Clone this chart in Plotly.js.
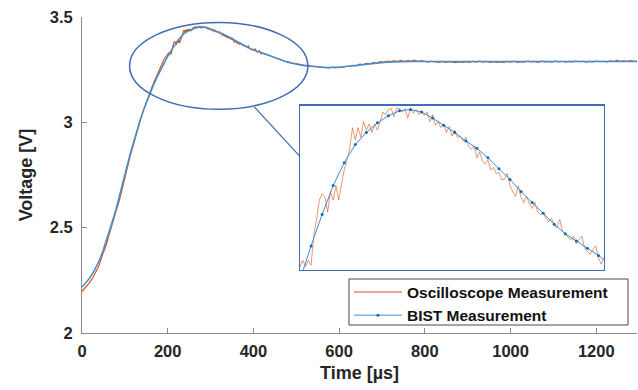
<!DOCTYPE html>
<html>
<head>
<meta charset="utf-8">
<script src="https://cdn.plot.ly/plotly-3.0.1.min.js"></script>
<style>html,body{margin:0;padding:0;background:#fff;}#chart{width:638px;height:390px;}</style>
</head>
<body>
<div id="chart"></div>
<script>
// ---- Data ----
const seriesNames = ["Oscilloscope Measurement", "BIST Measurement"];

// Oscilloscope: coarse before/after the peak, finer around the peak
const oscTime = [
  0,8,16,24,32,40,48,56,64,72,80,88,96,104,112,120,128,136,144,152,160,168,176,184,192,
  200,202,204,206,208,210,212,214,216,218,220,222,224,226,228,230,232,234,236,238,240,
  242,244,246,248,250,252,254,256,258,260,262,264,266,268,270,272,274,276,278,280,
  282,284,286,288,290,292,294,296,298,300,302,304,306,308,310,312,314,316,318,320,
  322,324,326,328,330,332,334,336,338,340,342,344,346,348,350,352,354,356,358,360,
  362,364,366,368,370,372,374,376,378,380,382,384,386,388,390,392,394,396,398,400,
  402,404,406,408,410,412,414,416,418,420,
  424,432,440,448,456,464,472,480,488,496,504,512,520,528,536,544,552,560,568,576,
  584,592,600,608,616,624,632,640,648,656,664,672,680,688,696,704,712,720,728,736,
  744,752,760,768,776,784,792,800,808,816,824,832,840,848,856,864,872,880,888,896,
  904,912,920,928,936,944,952,960,968,976,984,992,1000,1008,1016,1024,1032,1040,1048,1056,
  1064,1072,1080,1088,1096,1104,1112,1120,1128,1136,1144,1152,1160,1168,1176,1184,1192,1200,1208,1216,
  1224,1232,1240,1248,1256,1264,1272,1280,1288,1296
];
const oscVoltage = [
  2.197,2.214,2.236,2.258,2.292,2.322,2.372,2.414,2.472,2.522,2.582,2.636,2.706,2.770,2.836,2.894,2.954,3.008,3.060,3.108,3.150,3.192,3.226,3.264,3.302,
  3.323,3.328,3.323,3.328,3.324,3.349,3.362,3.378,3.383,3.381,3.368,3.385,3.378,3.390,3.378,3.391,3.403,3.411,3.421,3.438,3.428,
  3.438,3.430,3.443,3.436,3.441,3.434,3.441,3.436,3.443,3.451,3.449,3.453,3.454,3.447,3.454,3.454,3.451,3.454,3.446,3.454,
  3.450,3.453,3.449,3.452,3.448,3.451,3.443,3.449,3.440,3.443,3.438,3.441,3.434,3.439,3.431,3.436,3.430,3.431,3.427,3.430,
  3.423,3.420,3.423,3.413,3.418,3.410,3.408,3.411,3.403,3.405,3.400,3.401,3.395,3.395,3.400,3.390,3.385,3.381,3.390,3.380,
  3.376,3.381,3.375,3.371,3.376,3.368,3.366,3.368,3.363,3.360,3.363,3.357,3.355,3.362,3.352,3.350,3.347,3.345,3.348,3.342,
  3.345,3.348,3.338,3.335,3.333,3.337,3.340,3.330,3.325,3.330,
  3.326,3.322,3.315,3.309,3.302,3.298,3.290,3.288,3.282,3.280,3.276,3.274,3.270,3.271,3.266,3.266,3.263,3.262,3.260,3.258,
  3.262,3.259,3.262,3.261,3.266,3.265,3.270,3.268,3.276,3.274,3.280,3.279,3.284,3.281,3.288,3.286,3.291,3.288,3.292,3.289,
  3.294,3.290,3.293,3.291,3.295,3.289,3.293,3.290,3.286,3.290,3.287,3.285,3.289,3.284,3.288,3.285,3.283,3.287,3.284,3.288,
  3.285,3.289,3.286,3.290,3.286,3.289,3.285,3.288,3.284,3.287,3.285,3.289,3.286,3.290,3.285,3.288,3.286,3.291,3.287,3.289,
  3.285,3.290,3.287,3.289,3.286,3.291,3.287,3.290,3.286,3.289,3.287,3.291,3.288,3.290,3.286,3.289,3.287,3.291,3.288,3.290,
  3.287,3.292,3.289,3.294,3.290,3.292,3.289,3.293,3.290,3.291
];

// BIST: one sample every 8 us
const bistTime = [
  0,8,16,24,32,40,48,56,64,72,80,88,96,104,112,120,128,136,144,152,160,168,176,184,192,
  200,208,216,224,232,240,248,256,264,272,280,288,296,304,312,320,328,336,344,352,360,368,376,384,392,
  400,408,416,424,432,440,448,456,464,472,480,488,496,504,512,520,528,536,544,552,560,568,576,584,592,
  600,608,616,624,632,640,648,656,664,672,680,688,696,704,712,720,728,736,744,752,760,768,776,784,792,
  800,808,816,824,832,840,848,856,864,872,880,888,896,904,912,920,928,936,944,952,960,968,976,984,992,
  1000,1008,1016,1024,1032,1040,1048,1056,1064,1072,1080,1088,1096,1104,1112,1120,1128,1136,1144,1152,1160,1168,1176,1184,1192,
  1200,1208,1216,1224,1232,1240,1248,1256,1264,1272,1280,1288,1296
];
const bistVoltage = [
  2.218,2.236,2.256,2.280,2.308,2.342,2.384,2.432,2.485,2.538,2.592,2.652,2.718,2.784,2.847,2.907,2.963,3.014,3.061,3.104,3.144,3.182,3.218,3.252,3.284,
  3.313,3.340,3.366,3.390,3.409,3.424,3.434,3.442,3.448,3.452,3.453,3.451,3.446,3.440,3.434,3.427,3.421,3.413,3.404,3.395,3.385,3.376,3.367,3.358,3.350,
  3.344,3.338,3.332,3.325,3.319,3.312,3.306,3.300,3.294,3.289,3.285,3.281,3.277,3.274,3.271,3.269,3.267,3.265,3.263,3.262,3.261,3.260,3.260,3.260,3.261,
  3.262,3.263,3.265,3.267,3.269,3.271,3.273,3.275,3.277,3.279,3.280,3.281,3.283,3.284,3.285,3.286,3.286,3.287,3.287,3.288,3.288,3.289,3.289,3.289,3.289,
  3.289,3.289,3.288,3.288,3.288,3.287,3.287,3.287,3.287,3.287,3.287,3.287,3.287,3.287,3.287,3.287,3.287,3.287,3.287,3.287,3.287,3.287,3.287,3.287,3.287,
  3.287,3.287,3.287,3.287,3.287,3.287,3.287,3.287,3.287,3.288,3.288,3.288,3.288,3.288,3.288,3.288,3.288,3.288,3.288,3.288,3.288,3.288,3.288,3.288,3.288,
  3.288,3.288,3.288,3.289,3.289,3.289,3.289,3.289,3.289,3.289,3.289,3.289,3.289
];

const xTicks = [0, 200, 400, 600, 800, 1000, 1200];
const yTicks = [2, 2.5, 3, 3.5];
const yTickText = ["2", "2.5", "3", "3.5"];
const xRange = [0, 1295];
const yRange = [2, 3.5];
// zoom window shown in the inset
const insetTimeRange = [200, 420];
const insetVoltRange = [3.32, 3.456];
// ellipse marking the zoomed region (data coords) and connector line
const ellipseTime = [111, 527];
const ellipseVolt = [3.062, 3.474];
const connectorTime = [402, 509];
const connectorVolt = [3.073, 2.837];

// ---- Styles ----
const oscColor = "#D95319";
const bistLine = "#3f8fd4";
const bistMarker = "#0a6fb8";
const frameColor = "#3F6DB5";
const axisGray = "#8a8a8a";
const textColor = "#262626";
const fontFam = "Liberation Sans, Arial, sans-serif";

const traces = [
  {x: oscTime, y: oscVoltage, type: "scatter", mode: "lines", name: seriesNames[0],
   line: {color: oscColor, width: 1.2}, xaxis: "x", yaxis: "y"},
  {x: bistTime, y: bistVoltage, type: "scatter", mode: "lines", name: seriesNames[1], showlegend: false,
   line: {color: bistLine, width: 1.5}, xaxis: "x", yaxis: "y"},
  {x: oscTime, y: oscVoltage, type: "scatter", mode: "lines", showlegend: false,
   line: {color: oscColor, width: 1}, opacity: 0.6, xaxis: "x2", yaxis: "y2"},
  {x: bistTime, y: bistVoltage, type: "scatter", mode: "lines+markers", name: seriesNames[1],
   line: {color: bistLine, width: 1}, marker: {color: bistMarker, size: 3}, xaxis: "x2", yaxis: "y2"}
];

const tickFont = {family: fontFam, size: 16.5, color: textColor, weight: "bold"};
const titleFont = {family: fontFam, size: 18, color: textColor, weight: "bold"};

const layout = {
  width: 638, height: 390,
  margin: {l: 82, r: 1, t: 17, b: 57},
  paper_bgcolor: "#ffffff", plot_bgcolor: "#ffffff",
  showlegend: true,
  legend: {x: 0.481, xanchor: "left", y: 0.092, yanchor: "middle",
           bgcolor: "rgba(0,0,0,0)", borderwidth: 0,
           font: {family: fontFam, size: 15.5, color: "#111", weight: "bold"},
           itemwidth: 48, tracegroupgap: 0},
  xaxis: {domain: [0, 1], anchor: "y", range: xRange, tickvals: xTicks,
          showline: true, linecolor: axisGray, linewidth: 1,
          ticks: "inside", ticklen: 5, tickcolor: axisGray, tickfont: tickFont,
          ticklabelstandoff: 3,
          showgrid: false, zeroline: false,
          title: {text: "Time [µs]", font: titleFont, standoff: 7}},
  yaxis: {domain: [0, 1], anchor: "x", range: yRange, tickvals: yTicks, ticktext: yTickText,
          showline: true, linecolor: axisGray, linewidth: 1,
          ticks: "inside", ticklen: 5, tickcolor: axisGray, tickfont: tickFont,
          ticklabelstandoff: 5,
          showgrid: false, zeroline: false,
          title: {text: "Voltage [V]", font: titleFont, standoff: 12}},
  xaxis2: {domain: [0.3928, 0.9405], anchor: "y2", range: insetTimeRange,
           showline: true, mirror: true, linecolor: frameColor, linewidth: 1.5,
           showticklabels: false, ticks: "", showgrid: false, zeroline: false},
  yaxis2: {domain: [0.1994, 0.7184], anchor: "x2", range: insetVoltRange,
           showline: true, mirror: true, linecolor: frameColor, linewidth: 1.5,
           showticklabels: false, ticks: "", showgrid: false, zeroline: false},
  shapes: [
    {type: "circle", xref: "x", yref: "y", x0: ellipseTime[0], x1: ellipseTime[1],
     y0: ellipseVolt[0], y1: ellipseVolt[1], line: {color: frameColor, width: 1.5}, layer: "above"},
    {type: "line", xref: "x", yref: "y", x0: connectorTime[0], x1: connectorTime[1],
     y0: connectorVolt[0], y1: connectorVolt[1], line: {color: frameColor, width: 1.2}, layer: "above"},
    // legend frame
    {type: "rect", xref: "paper", yref: "paper", x0: 0.481, x1: 0.9838, y0: 0.0253, y1: 0.1709,
     line: {color: "#4a4a4a", width: 1}, fillcolor: "#ffffff", layer: "above"}
  ]
};

Plotly.newPlot("chart", traces, layout, {displayModeBar: false, staticPlot: true});
</script>
</body>
</html>
